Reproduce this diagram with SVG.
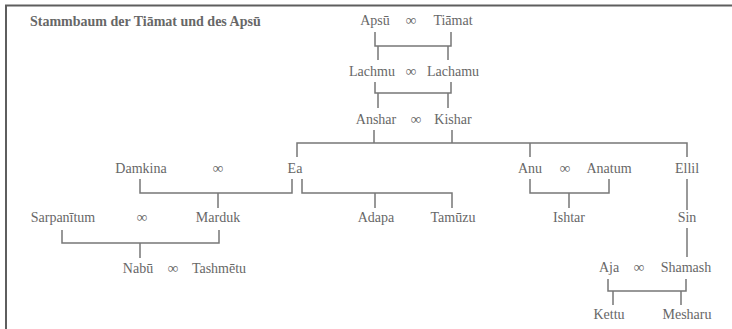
<svg xmlns="http://www.w3.org/2000/svg" width="732" height="329" viewBox="0 0 732 329">
<style>
text{font-family:'Liberation Serif','DejaVu Serif',serif;font-size:14px;fill:#676767;text-anchor:middle}
.t{font-weight:bold;text-anchor:start}
.m{font-size:15px}
.c{fill:none;stroke:#777;stroke-width:1.5}
.b{fill:none;stroke:#5e5e5e;stroke-width:2}
</style>
<rect width="732" height="329" fill="#fff"/>
<path class="b" d="M6,329 V5.5 H732"/>
<text class="t" x="30" y="26">Stammbaum der Tiāmat und des Apsū</text>
<g id="connectors">
<path class="c" d="M375,32 V46 H451 V32 M378,46 V60 M448,46 V60"/>
<path class="c" d="M375,82 V93 H451 V82 M378,93 V108 M448,93 V108"/>
<path class="c" d="M374,130 V143 M452,130 V143 M297,157 V143 H687 V157 M530,143 V157"/>
<path class="c" d="M140,179 V193 H292 V179 M218,193 V208"/>
<path class="c" d="M302,179 V193 H452 V208 M375,193 V208"/>
<path class="c" d="M530,179 V193 H609 V179 M569,193 V208"/>
<path class="c" d="M687,179 V210"/>
<path class="c" d="M62,230 V243 H219 V230 M140,243 V258"/>
<path class="c" d="M687,228 V257"/>
<path class="c" d="M608,279 V291 H686 V279 M613,291 V305 M681,291 V305"/>
</g>
<g id="apsu"><text x="375" y="25">Apsū</text></g>
<g id="m1"><text class="m" x="411" y="25">∞</text></g>
<g id="tiamat"><text x="453" y="25">Tiāmat</text></g>
<g id="lachmu"><text x="372" y="76">Lachmu</text></g>
<g id="m2"><text class="m" x="411" y="76">∞</text></g>
<g id="lachamu"><text x="453" y="76">Lachamu</text></g>
<g id="anshar"><text x="376" y="124">Anshar</text></g>
<g id="m3"><text class="m" x="416" y="124">∞</text></g>
<g id="kishar"><text x="453" y="124">Kishar</text></g>
<g id="damkina"><text x="141" y="173">Damkina</text></g>
<g id="m4"><text class="m" x="218" y="173">∞</text></g>
<g id="ea"><text x="295" y="173">Ea</text></g>
<g id="anu"><text x="530" y="173">Anu</text></g>
<g id="m5"><text class="m" x="565" y="173">∞</text></g>
<g id="anatum"><text x="609" y="173">Anatum</text></g>
<g id="ellil"><text x="687" y="173">Ellil</text></g>
<g id="sarpanitum"><text x="63" y="222">Sarpanītum</text></g>
<g id="m6"><text class="m" x="142" y="222">∞</text></g>
<g id="marduk"><text x="218" y="222">Marduk</text></g>
<g id="adapa"><text x="376" y="222">Adapa</text></g>
<g id="tamuzu"><text x="453" y="222">Tamūzu</text></g>
<g id="ishtar"><text x="569" y="222">Ishtar</text></g>
<g id="sin"><text x="687" y="222">Sin</text></g>
<g id="nabu"><text x="138" y="273">Nabū</text></g>
<g id="m7"><text class="m" x="173" y="273">∞</text></g>
<g id="tashmetu"><text x="219" y="273">Tashmētu</text></g>
<g id="aja"><text x="609" y="272">Aja</text></g>
<g id="m8"><text class="m" x="639" y="272">∞</text></g>
<g id="shamash"><text x="686" y="272">Shamash</text></g>
<g id="kettu"><text x="609" y="319">Kettu</text></g>
<g id="mesharu"><text x="687" y="319">Mesharu</text></g>
</svg>
